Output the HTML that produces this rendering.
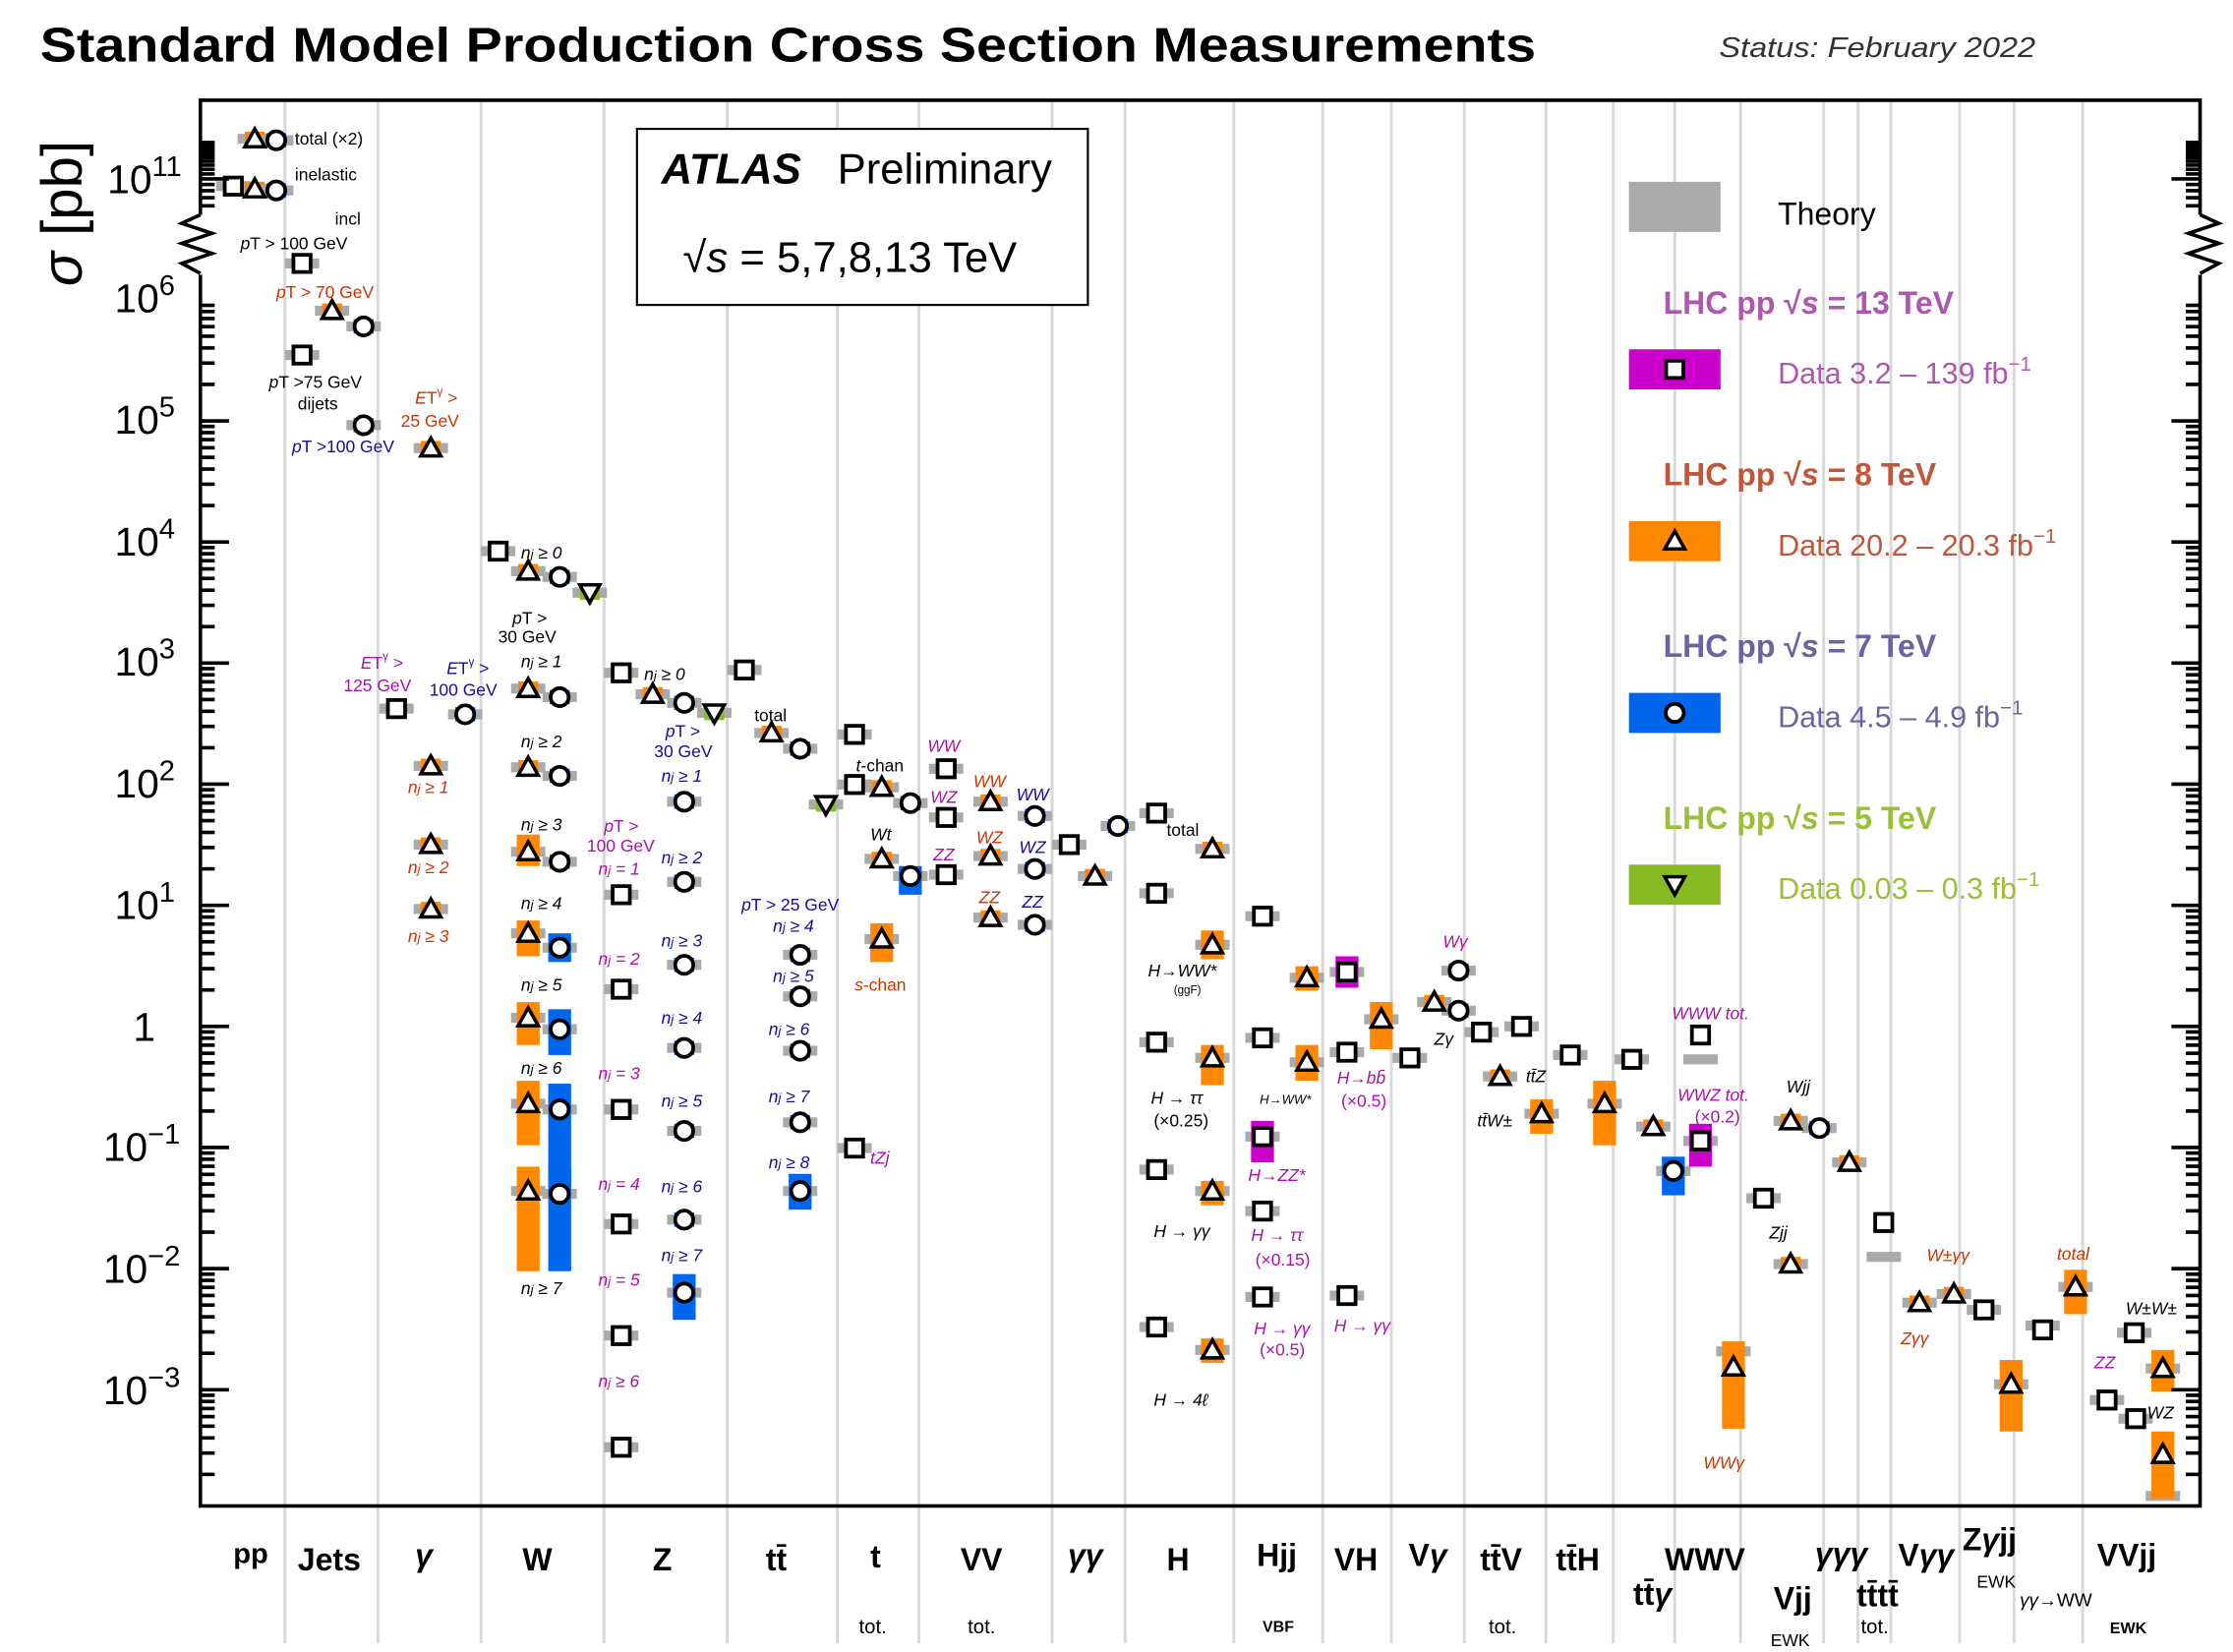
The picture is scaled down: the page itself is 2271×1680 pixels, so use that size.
<!DOCTYPE html>
<html><head><meta charset="utf-8">
<style>
html,body{margin:0;padding:0;background:#fff;}
svg{display:block;}
text{font-family:"Liberation Sans",sans-serif;}
.s{font-size:12px;}
.i{font-style:italic;}
.cat{font-size:22px;font-weight:bold;}
.tk{font-size:28px;}
.k{fill:#000}.m{fill:#aa11aa}.r{fill:#cc3300}.b{fill:#1a0a99}
</style></head><body>
<svg id="c" width="2271" height="1680" viewBox="0 0 1560 1154" xmlns="http://www.w3.org/2000/svg">
<rect width="1560" height="1154" fill="#fff"/>
<g id="grid" stroke="#d8d8d8" stroke-width="2"></g>
<g id="bars"></g>
<g id="marks"></g>
<rect x="140" y="70" width="1397" height="982" fill="none" stroke="#000" stroke-width="2.5"/>
<g id="ticks" stroke="#000" stroke-width="2.5"></g>
<text x="28" y="43" font-size="34" font-weight="bold" textLength="1045" lengthAdjust="spacingAndGlyphs">Standard Model Production Cross Section Measurements</text>
<text x="1201" y="40" font-size="20" font-style="italic" fill="#333" textLength="221" lengthAdjust="spacingAndGlyphs">Status: February 2022</text>
<text transform="translate(57,200) rotate(-90)" font-size="40"><tspan font-style="italic">σ</tspan> [pb]</text>
<g class="tk">
<text x="75" y="135">10<tspan dy="-12" font-size="20">11</tspan></text>
<text x="80" y="218">10<tspan dy="-12" font-size="20">6</tspan></text>
<text x="80" y="303">10<tspan dy="-12" font-size="20">5</tspan></text>
<text x="80" y="388">10<tspan dy="-12" font-size="20">4</tspan></text>
<text x="80" y="472">10<tspan dy="-12" font-size="20">3</tspan></text>
<text x="80" y="557">10<tspan dy="-12" font-size="20">2</tspan></text>
<text x="80" y="642">10<tspan dy="-12" font-size="20">1</tspan></text>
<text x="93" y="727">1</text>
<text x="72" y="811">10<tspan dy="-12" font-size="20">−1</tspan></text>
<text x="72" y="896">10<tspan dy="-12" font-size="20">−2</tspan></text>
<text x="72" y="981">10<tspan dy="-12" font-size="20">−3</tspan></text>
</g>
<rect x="445" y="90" width="315" height="123" fill="#fff" stroke="#000" stroke-width="1.5"/>
<text x="462" y="128" font-size="30" font-weight="bold" font-style="italic">ATLAS</text>
<text x="585" y="128" font-size="30">Preliminary</text>
<text x="477" y="190" font-size="30">√<tspan font-style="italic">s</tspan> = 5,7,8,13 TeV</text>
<rect x="1138" y="127" width="64" height="35" fill="#aaa"/>
<text x="1242" y="157" font-size="22">Theory</text>
<text x="1162" y="219" font-size="22" font-weight="bold" fill="#b055b0">LHC pp  √<tspan font-style="italic">s</tspan> = 13 TeV</text>
<rect x="1138" y="244" width="64" height="28" fill="#cc00cc"/>
<text x="1242" y="268" font-size="21" fill="#b055b0">Data  3.2 – 139 fb<tspan dy="-9" font-size="14">−1</tspan></text>
<text x="1162" y="339" font-size="22" font-weight="bold" fill="#c0563a">LHC pp  √<tspan font-style="italic">s</tspan> = 8 TeV</text>
<rect x="1138" y="364" width="64" height="28" fill="#ff8800"/>
<text x="1242" y="388" font-size="21" fill="#c0563a">Data  20.2 – 20.3 fb<tspan dy="-9" font-size="14">−1</tspan></text>
<text x="1162" y="459" font-size="22" font-weight="bold" fill="#6a64a0">LHC pp  √<tspan font-style="italic">s</tspan> = 7 TeV</text>
<rect x="1138" y="484" width="64" height="28" fill="#0066ee"/>
<text x="1242" y="508" font-size="21" fill="#6a64a0">Data  4.5 – 4.9 fb<tspan dy="-9" font-size="14">−1</tspan></text>
<text x="1162" y="579" font-size="22" font-weight="bold" fill="#9ac03a">LHC pp  √<tspan font-style="italic">s</tspan> = 5 TeV</text>
<rect x="1138" y="604" width="64" height="28" fill="#88bb22"/>
<text x="1242" y="628" font-size="21" fill="#9ac03a">Data  0.03 – 0.3 fb<tspan dy="-9" font-size="14">−1</tspan></text>
<g id="legm"></g>
<g class="cat">
<text x="163" y="1092" font-size="20">pp</text>
<text x="208" y="1097">Jets</text>
<text x="290" y="1094" font-style="italic">γ</text>
<text x="365" y="1097">W</text>
<text x="456" y="1097">Z</text>
<text x="535" y="1097">tt̄</text>
<text x="608" y="1095">t</text>
<text x="671" y="1097">VV</text>
<text x="746" y="1094" font-style="italic">γγ</text>
<text x="815" y="1097">H</text>
<text x="878" y="1094">Hjj</text>
<text x="932" y="1097">VH</text>
<text x="984" y="1094">V<tspan font-style="italic">γ</tspan></text>
<text x="1034" y="1097">tt̄V</text>
<text x="1087" y="1097">tt̄H</text>
<text x="1163" y="1097">WWV</text>
<text x="1141" y="1121">tt̄<tspan font-style="italic">γ</tspan></text>
<text x="1239" y="1124">Vjj</text>
<text x="1268" y="1093" font-style="italic">γγγ</text>
<text x="1297" y="1122">tt̄tt̄</text>
<text x="1326" y="1094">V<tspan font-style="italic">γγ</tspan></text>
<text x="1371" y="1083">Z<tspan font-style="italic">γ</tspan>jj</text>
<text x="1465" y="1094">VVjj</text>
</g>
<g font-size="14">
<text x="600" y="1141" font-family="Liberation Serif">tot.</text>
<text x="676" y="1141" font-family="Liberation Serif">tot.</text>
<text x="882" y="1140" font-size="11" font-weight="bold">VBF</text>
<text x="1040" y="1141" font-family="Liberation Serif">tot.</text>
<text x="1237" y="1150" font-size="12">EWK</text>
<text x="1300" y="1141" font-family="Liberation Serif">tot.</text>
<text x="1381" y="1109" font-size="12">EWK</text>
<text x="1411" y="1122" font-size="13"><tspan font-style="italic">γγ</tspan>→WW</text>
<text x="1474" y="1141" font-size="11" font-weight="bold">EWK</text>
</g>
<g class="s">
<text x="206" y="101">total (×2)</text>
<text x="206" y="126">inelastic</text>
<text x="234" y="157">incl</text>
<text x="168" y="174"><tspan class="i">p</tspan>T &gt; 100 GeV</text>
<text x="193" y="208" class="r"><tspan class="i">p</tspan>T &gt; 70 GeV</text>
<text x="188" y="271"><tspan class="i">p</tspan>T &gt;75 GeV</text>
<text x="208" y="286">dijets</text>
<text x="204" y="316" class="b"><tspan class="i">p</tspan>T &gt;100 GeV</text>
<text x="290" y="282" class="r"><tspan class="i">E</tspan>T<tspan font-size="8" dy="-6">γ</tspan><tspan dy="6"> &gt;</tspan></text>
<text x="280" y="298" class="r">25 GeV</text>
<text x="364" y="390" class="i">n<tspan font-size="9">j</tspan> ≥ 0</text>
<text x="358" y="436"><tspan class="i">p</tspan>T &gt;</text>
<text x="348" y="449">30 GeV</text>
<text x="364" y="466" class="i">n<tspan font-size="9">j</tspan> ≥ 1</text>
<text x="252" y="467" class="m"><tspan class="i">E</tspan>T<tspan font-size="8" dy="-6">γ</tspan><tspan dy="6"> &gt;</tspan></text>
<text x="240" y="483" class="m">125 GeV</text>
<text x="312" y="471" class="b"><tspan class="i">E</tspan>T<tspan font-size="8" dy="-6">γ</tspan><tspan dy="6"> &gt;</tspan></text>
<text x="300" y="486" class="b">100 GeV</text>
<text x="285" y="554" class="r i">n<tspan font-size="9">j</tspan> ≥ 1</text>
<text x="285" y="610" class="r i">n<tspan font-size="9">j</tspan> ≥ 2</text>
<text x="285" y="658" class="r i">n<tspan font-size="9">j</tspan> ≥ 3</text>
<text x="364" y="522" class="i">n<tspan font-size="9">j</tspan> ≥ 2</text>
<text x="364" y="580" class="i">n<tspan font-size="9">j</tspan> ≥ 3</text>
<text x="364" y="635" class="i">n<tspan font-size="9">j</tspan> ≥ 4</text>
<text x="364" y="692" class="i">n<tspan font-size="9">j</tspan> ≥ 5</text>
<text x="364" y="750" class="i">n<tspan font-size="9">j</tspan> ≥ 6</text>
<text x="364" y="904" class="i">n<tspan font-size="9">j</tspan> ≥ 7</text>
<text x="450" y="475" class="i">n<tspan font-size="9">j</tspan> ≥ 0</text>
<text x="465" y="515" class="b"><tspan class="i">p</tspan>T &gt;</text>
<text x="457" y="529" class="b">30 GeV</text>
<text x="462" y="546" class="b i">n<tspan font-size="9">j</tspan> ≥ 1</text>
<text x="422" y="581" class="m"><tspan class="i">p</tspan>T &gt;</text>
<text x="410" y="595" class="m">100 GeV</text>
<text x="418" y="611" class="m i">n<tspan font-size="9">j</tspan> = 1</text>
<text x="462" y="603" class="b i">n<tspan font-size="9">j</tspan> ≥ 2</text>
<text x="462" y="661" class="b i">n<tspan font-size="9">j</tspan> ≥ 3</text>
<text x="418" y="674" class="m i">n<tspan font-size="9">j</tspan> = 2</text>
<text x="462" y="715" class="b i">n<tspan font-size="9">j</tspan> ≥ 4</text>
<text x="418" y="754" class="m i">n<tspan font-size="9">j</tspan> = 3</text>
<text x="462" y="773" class="b i">n<tspan font-size="9">j</tspan> ≥ 5</text>
<text x="418" y="831" class="m i">n<tspan font-size="9">j</tspan> = 4</text>
<text x="462" y="833" class="b i">n<tspan font-size="9">j</tspan> ≥ 6</text>
<text x="462" y="881" class="b i">n<tspan font-size="9">j</tspan> ≥ 7</text>
<text x="418" y="898" class="m i">n<tspan font-size="9">j</tspan> = 5</text>
<text x="418" y="969" class="m i">n<tspan font-size="9">j</tspan> ≥ 6</text>
<text x="527" y="504">total</text>
<text x="518" y="636" class="b"><tspan class="i">p</tspan>T &gt; 25 GeV</text>
<text x="540" y="651" class="b i">n<tspan font-size="9">j</tspan> ≥ 4</text>
<text x="540" y="686" class="b i">n<tspan font-size="9">j</tspan> ≥ 5</text>
<text x="537" y="723" class="b i">n<tspan font-size="9">j</tspan> ≥ 6</text>
<text x="537" y="770" class="b i">n<tspan font-size="9">j</tspan> ≥ 7</text>
<text x="537" y="816" class="b i">n<tspan font-size="9">j</tspan> ≥ 8</text>
<text x="598" y="539"><tspan class="i">t</tspan>-chan</text>
<text x="608" y="587" class="i">Wt</text>
<text x="597" y="692" class="r"><tspan class="i">s</tspan>-chan</text>
<text x="608" y="813" class="m i">tZj</text>
<text x="648" y="525" class="m i">WW</text>
<text x="650" y="561" class="m i">WZ</text>
<text x="652" y="601" class="m i">ZZ</text>
<text x="680" y="550" class="r i">WW</text>
<text x="682" y="589" class="r i">WZ</text>
<text x="684" y="631" class="r i">ZZ</text>
<text x="710" y="559" class="b i">WW</text>
<text x="712" y="596" class="b i">WZ</text>
<text x="714" y="634" class="b i">ZZ</text>
<text x="815" y="584">total</text>
<text x="802" y="682" class="i">H→WW*</text>
<text x="820" y="694" font-size="8">(ggF)</text>
<text x="804" y="771" class="i">H → ττ</text>
<text x="806" y="787">(×0.25)</text>
<text x="806" y="864" class="i">H → γγ</text>
<text x="806" y="982" class="i">H → 4ℓ</text>
<text x="880" y="771" font-size="9" class="i">H→WW*</text>
<text x="872" y="825" class="m i">H→ZZ*</text>
<text x="874" y="867" class="m i">H → ττ</text>
<text x="877" y="884" class="m">(×0.15)</text>
<text x="876" y="932" class="m i">H → γγ</text>
<text x="880" y="947" class="m">(×0.5)</text>
<text x="934" y="757" class="m i">H→bb̄</text>
<text x="937" y="773" class="m">(×0.5)</text>
<text x="932" y="930" class="m i">H → γγ</text>
<text x="1008" y="662" class="m i">Wγ</text>
<text x="1002" y="730" class="i">Zγ</text>
<text x="1066" y="756" class="i">tt̄Z</text>
<text x="1032" y="787" class="i">tt̄W±</text>
<text x="1168" y="712" class="m i">WWW tot.</text>
<text x="1172" y="769" class="m i">WWZ tot.</text>
<text x="1184" y="784" class="m">(×0.2)</text>
<text x="1190" y="1026" class="r i">WWγ</text>
<text x="1236" y="865" class="i">Zjj</text>
<text x="1248" y="763" class="i">Wjj</text>
<text x="1328" y="939" class="r i">Zγγ</text>
<text x="1346" y="881" class="r i">W±γγ</text>
<text x="1437" y="880" class="r i">total</text>
<text x="1485" y="918" class="i">W±W±</text>
<text x="1463" y="956" class="m i">ZZ</text>
<text x="1500" y="991" class="i">WZ</text>
</g>
<script>
var NS="http://www.w3.org/2000/svg";
function el(p,t,a){var e=document.createElementNS(NS,t);for(var k in a)e.setAttribute(k,a[k]);document.getElementById(p).appendChild(e);return e;}
[199,264,336,422,508,585,642,735,786,862,924,972,1023,1080,1127,1170,1216,1274,1298,1321,1369,1407,1455].forEach(function(x){el('grid','line',{x1:x,y1:71,x2:x,y2:1148});});
function Y(l){return 717-84.6*l;}
for(var d=-4;d<=5;d++){for(var j=1;j<=9;j++){var y=Y(d+Math.log10(j));if(y>1051||y<195)continue;var L=j==1?20:10;
el('ticks','line',{x1:140,y1:y,x2:140+L,y2:y});el('ticks','line',{x1:1537,y1:y,x2:1537-L,y2:y});}}
for(var j=5;j<=20;j++){var v=j<10?10+Math.log10(j):11+Math.log10(j/10);var y=125-84.6*(v-11);if(y<72||y>150)continue;var L=(j==10)?20:10;
el('ticks','line',{x1:140,y1:y,x2:140+L,y2:y});el('ticks','line',{x1:1537,y1:y,x2:1537-L,y2:y});}
[[140,1],[1537,-1]].forEach(function(a){var x=a[0],s=a[1];
el('ticks','rect',{x:x-4,y:150,width:8,height:42,fill:'#fff',stroke:'none'});
el('ticks','polyline',{points:[x,150,x-13*s,156,x+8*s,163,x-13*s,170,x+8*s,177,x-13*s,184,x,191].join(' '),fill:'none','stroke-width':2.5});});
var COL={s:'#cc00cc',t:'#ff8800',c:'#0066ee',d:'#88bb22'};
function mk(g,t,x,y){
 if(t=='s')el(g,'rect',{x:x-6,y:y-6,width:12,height:12,fill:'#fff',stroke:'#000','stroke-width':2.6});
 else if(t=='c')el(g,'circle',{cx:x,cy:y,r:6.3,fill:'#fff',stroke:'#000','stroke-width':2.6});
 else if(t=='t')el(g,'polygon',{points:[x,y-7,x-7,y+5.5,x+7,y+5.5].join(' '),fill:'#fff',stroke:'#000','stroke-width':2.4});
 else el(g,'polygon',{points:[x,y+7,x-7,y-5.5,x+7,y-5.5].join(' '),fill:'#fff',stroke:'#000','stroke-width':2.4});
}
function m(t,x,y,b1,b2,th){
 var ty=th===undefined?y:th;
 if(th!==null)el('bars','rect',{x:x-12,y:ty-3.5,width:24,height:7,fill:'#aaa'});
 var c=COL[t];
 if(b1!==undefined&&b1!==null)el('bars','rect',{x:x-8,y:b1,width:16,height:b2-b1,fill:c});
 else el('bars','rect',{x:x-7,y:y-5,width:14,height:10,fill:c});
 mk('marks',t,x,y);
}
var P=[
['s',163,130],['t',178,132],['c',193,133],['t',178,97],['c',193,98],
['s',211,184],['t',232,217],['c',254,228],['s',211,248],['c',254,297],['t',301,313],
['s',348,385],['t',369,399],['c',391,403],['d',412,414],
['t',369,481],['c',391,487],['s',277,495],['c',325,499],
['t',301,535],['t',301,590],['t',301,635],
['t',369,536],['c',391,542],['t',369,595,583,605],['c',391,602],
['t',369,652,643,668],['c',391,662,652,672],['t',369,711,700,730],['c',391,719,705,737],
['t',369,771,755,800],['c',391,775,757,832],['t',369,832,815,888],['c',391,834,815,888],
['s',434,470],['t',456,485],['c',478,491],['d',499,498],['c',478,560],['s',434,625],['c',478,616],
['c',478,674],['s',434,691],['c',478,732],['c',478,790],['s',434,775],['c',478,852],['s',434,855],
['c',478,903,890,922],['s',434,933],['s',434,1011],
['s',520,468],['t',539,512],['c',559,523],['d',577,562],['c',559,667],['c',559,696],['c',559,734],['c',559,784],['c',559,832,820,845],
['s',597,513],['s',597,548],['t',616,550],['c',636,561],['t',616,600],['c',636,612,605,625],['t',616,656,645,672],['s',597,802],
['s',661,537],['s',661,571],['s',661,611],['t',692,560],['t',692,598],['t',692,641],['c',723,570],['c',723,607],['c',723,646],
['s',747,590],['t',765,612],['c',781,577],
['s',808,568],['t',847,593],['s',808,624],['t',847,660,650,670],['s',808,728],['t',847,739,730,758],['s',808,817],['t',847,832,825,842],['s',808,927],['t',847,943,935,952],
['s',882,640],['t',913,683,675,692],['s',882,725],['t',913,742,730,755],['s',882,794,783,812],['s',882,846],['s',882,906],
['s',941,679,668,690],['t',965,712,700,733],['s',941,735],['s',941,905],
['s',985,739],['t',1002,700],['c',1019,678],['c',1019,706],
['s',1035,721],['s',1063,717],['t',1048,752],['t',1077,778,768,792],
['s',1097,737],['t',1121,771,755,800],['s',1140,740],['t',1155,787],
['c',1169,818,808,835],['s',1188,723,null,null,740],['s',1188,797,785,815],['t',1211,955,937,998,944],
['s',1232,837],['t',1251,883],['t',1251,783],['c',1271,788],['t',1292,812],['s',1316,854,null,null,878],
['t',1341,910],['t',1365,904],['s',1386,915],['t',1405,967,950,1000],
['s',1427,929,null,null,926],['t',1450,899,887,918],
['s',1491,931],['t',1511,956,943,972],['s',1472,978],['s',1492,991],['t',1511,1016,1000,1047,1045]
];
P.forEach(function(p){m(p[0],p[1],p[2],p[3],p[4],p[5]);});
mk('legm','s',1170,258);mk('legm','t',1170,378);mk('legm','c',1170,498);mk('legm','d',1170,618);
</script>
</svg>
</body></html>
